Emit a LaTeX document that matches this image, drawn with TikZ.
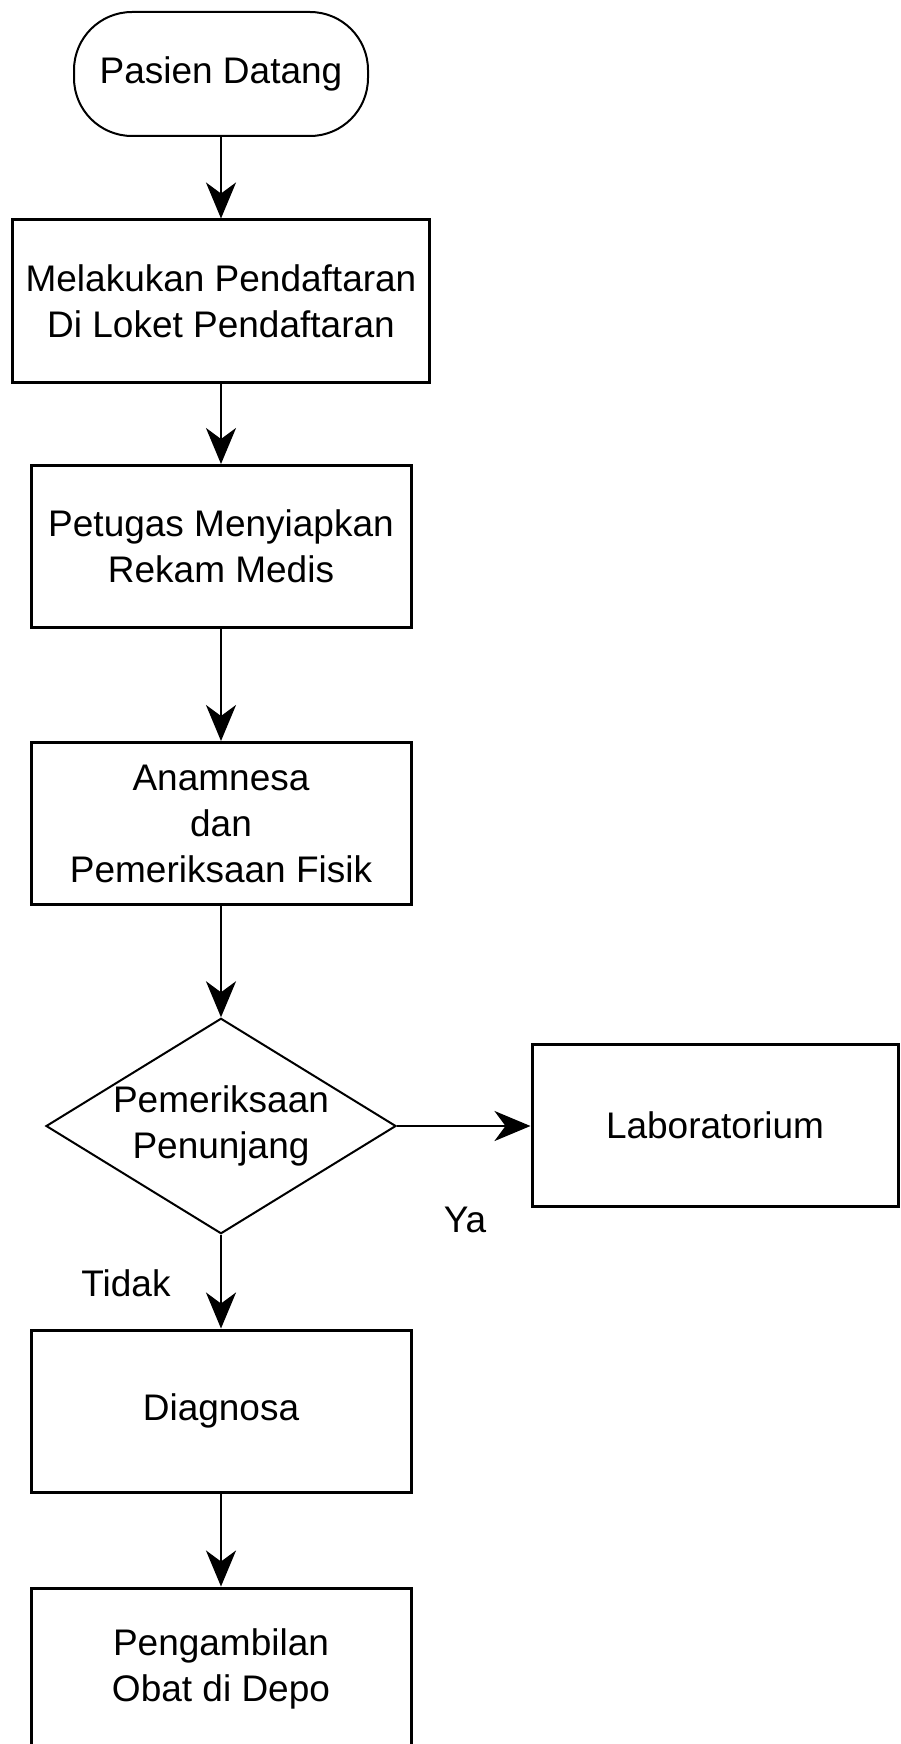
\documentclass[tikz,border=0pt]{standalone}
\usepackage{fontspec}
\setmainfont{Liberation Sans}
\usetikzlibrary{shapes.geometric,arrows.meta}

\begin{document}
\begin{tikzpicture}[x=1pt,y=-1pt,
    every node/.style={font=\fontsize{37}{46}\selectfont, align=center, inner sep=0pt},
    proc/.style={draw, line width=3pt, minimum width=380pt, minimum height=162pt},
    term/.style={draw, line width=2pt, rounded corners=58pt, minimum width=294pt, minimum height=124pt},
    cond/.style={draw, diamond, aspect=1.6, line width=2pt, minimum width=350pt, minimum height=215pt},
    flow/.style={-{Stealth[length=36pt,width=30pt,inset=11pt]}, line width=2.5pt}]
  \useasboundingbox (0,0) rectangle (901,1744);
  % steps of the flow
  \node[term] (start) at (221,74) {Pasien Datang};
  \node[proc, minimum width=417pt] (reg) at (221,301) {Melakukan Pendaftaran\\Di Loket Pendaftaran};
  \node[proc] (rm) at (221,546.5) {Petugas Menyiapkan\\Rekam Medis};
  \node[proc] (anam) at (221,823.5) {Anamnesa\\dan\\Pemeriksaan Fisik};
  \node[cond] (cek) at (221,1126) {Pemeriksaan\\Penunjang};
  \node[proc, minimum width=366pt] (lab) at (715,1125) {Laboratorium};
  \node[proc] (diag) at (221,1411) {Diagnosa};
  \node[proc] (obat) at (221,1669) {Pengambilan\\Obat di Depo};
  \node (ya) at (465,1220) {Ya};
  \node (tidak) at (126,1283) {Tidak};
  % connectors
  \draw[flow] (start) -- (reg);
  \draw[flow] (reg) -- (rm);
  \draw[flow] (rm) -- (anam);
  \draw[flow] (anam) -- (cek);
  \draw[flow] (cek.east) -- (cek.east -| lab.west);
  \draw[flow] (cek) -- (diag);
  \draw[flow] (diag) -- (obat);
\end{tikzpicture}
\end{document}
